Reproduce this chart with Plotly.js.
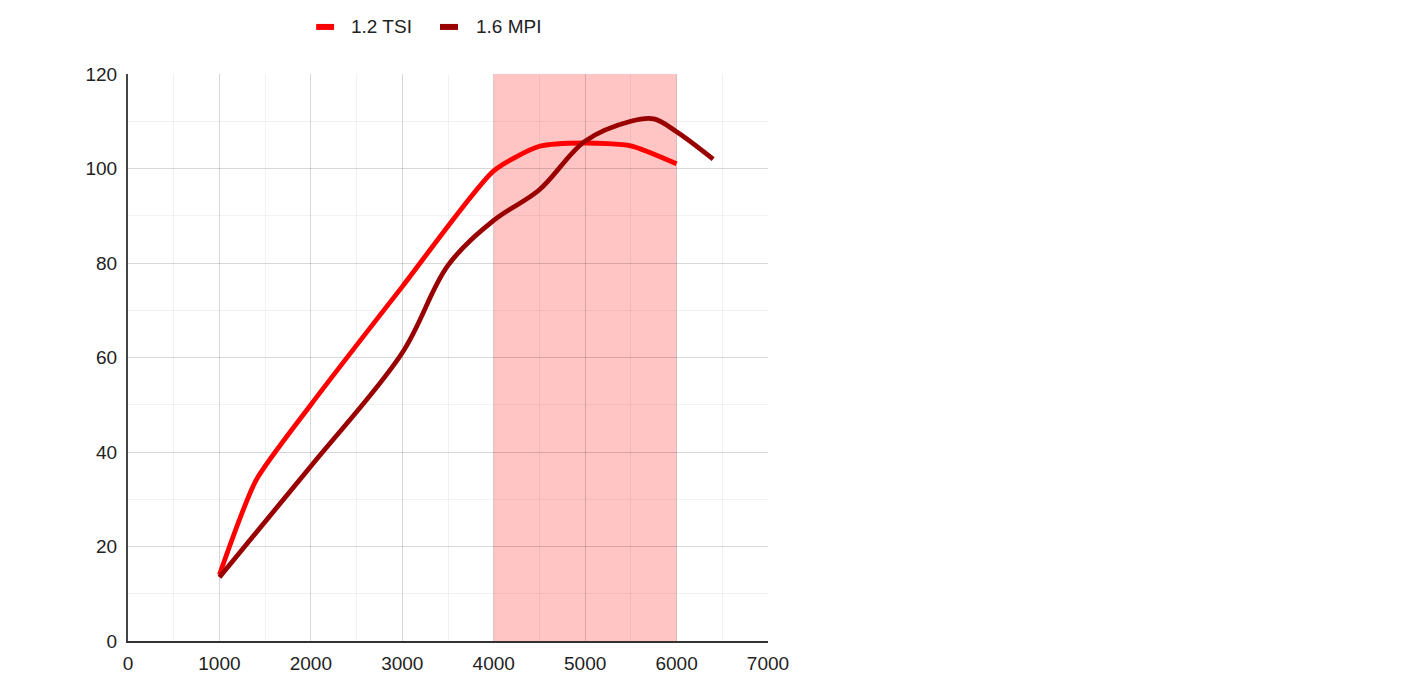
<!DOCTYPE html>
<html>
<head>
<meta charset="utf-8">
<script src="https://cdn.plot.ly/plotly-3.0.1.min.js"></script>
<style>html,body{margin:0;padding:0;background:#fff;}#chart{width:1404px;height:695px;}</style>
</head>
<body>
<div id="chart"></div>
<script>
const tsiRpm = [1000, 1400, 2000, 3000, 4000, 4500, 5000, 5500, 6000];
const tsiPower = [14, 34, 50, 75, 99.5, 104.7, 105.4, 104.8, 101];
const mpiRpm = [1000, 2000, 3000, 3500, 4000, 4500, 5000, 5500, 5750, 6000, 6400];
const mpiPower = [13.5, 37, 61, 79.5, 89, 95.5, 105.8, 110, 110.5, 107.8, 102];
const seriesNames = ['1.2 TSI', '1.6 MPI'];
const seriesColors = ['#ff0000', '#990000'];
const bandRange = [4000, 6000];
const xTicks = [0, 1000, 2000, 3000, 4000, 5000, 6000, 7000];
const yTicks = [0, 20, 40, 60, 80, 100, 120];

const traces = [
  {x: tsiRpm, y: tsiPower, name: seriesNames[0], type: 'scatter', mode: 'lines',
   line: {color: seriesColors[0], width: 4.8, shape: 'spline', smoothing: 0.6}},
  {x: mpiRpm, y: mpiPower, name: seriesNames[1], type: 'scatter', mode: 'lines',
   line: {color: seriesColors[1], width: 4.8, shape: 'spline', smoothing: 1.0}}
];

const legendY = 1.083;
const legendItems = [
  {x0: 0.294, x1: 0.322, tx: 0.346},
  {x0: 0.4875, x1: 0.5156, tx: 0.540}
];
const legendShapes = legendItems.map((it, i) => ({
  type: 'line', xref: 'paper', yref: 'paper', x0: it.x0, x1: it.x1, y0: legendY, y1: legendY,
  line: {color: seriesColors[i], width: 6}
}));
const baseFont = {family: 'Liberation Sans, Arial, sans-serif', size: 19, color: '#222'};
const legendAnn = legendItems.map((it, i) => ({
  xref: 'paper', yref: 'paper', x: it.tx, y: legendY, xanchor: 'left', yanchor: 'middle',
  text: seriesNames[i], showarrow: false, font: baseFont
}));

const layout = {
  width: 1404, height: 695,
  margin: {l: 128, r: 636, t: 74, b: 54},
  paper_bgcolor: '#fff', plot_bgcolor: '#fff',
  font: baseFont,
  showlegend: false,
  xaxis: {range: [0, 7000], tickvals: xTicks, ticktext: xTicks.map(String), tickfont: baseFont,
          showgrid: true, gridcolor: 'rgba(0,0,0,0.11)', gridwidth: 1,
          minor: {dtick: 500, showgrid: true, gridcolor: 'rgba(0,0,0,0.05)', gridwidth: 1},
          zeroline: false, showline: true, linecolor: '#333', linewidth: 1.5,
          ticks: '', ticklabelstandoff: 5, fixedrange: true},
  yaxis: {range: [0, 120], tickvals: yTicks, ticktext: yTicks.map(String), tickfont: baseFont,
          showgrid: true, gridcolor: 'rgba(0,0,0,0.11)', gridwidth: 1,
          minor: {dtick: 10, showgrid: true, gridcolor: 'rgba(0,0,0,0.05)', gridwidth: 1},
          zeroline: false, showline: true, linecolor: '#444', linewidth: 2,
          ticks: '', ticklabelstandoff: 5, fixedrange: true},
  shapes: [
    {type: 'rect', xref: 'x', yref: 'paper', x0: bandRange[0], x1: bandRange[1], y0: 0, y1: 1,
     fillcolor: '#ffc5c5', line: {width: 0}, layer: 'below'}
  ].concat(legendShapes),
  annotations: legendAnn
};

Plotly.newPlot('chart', traces, layout, {displayModeBar: false, staticPlot: true});
</script>
</body>
</html>
